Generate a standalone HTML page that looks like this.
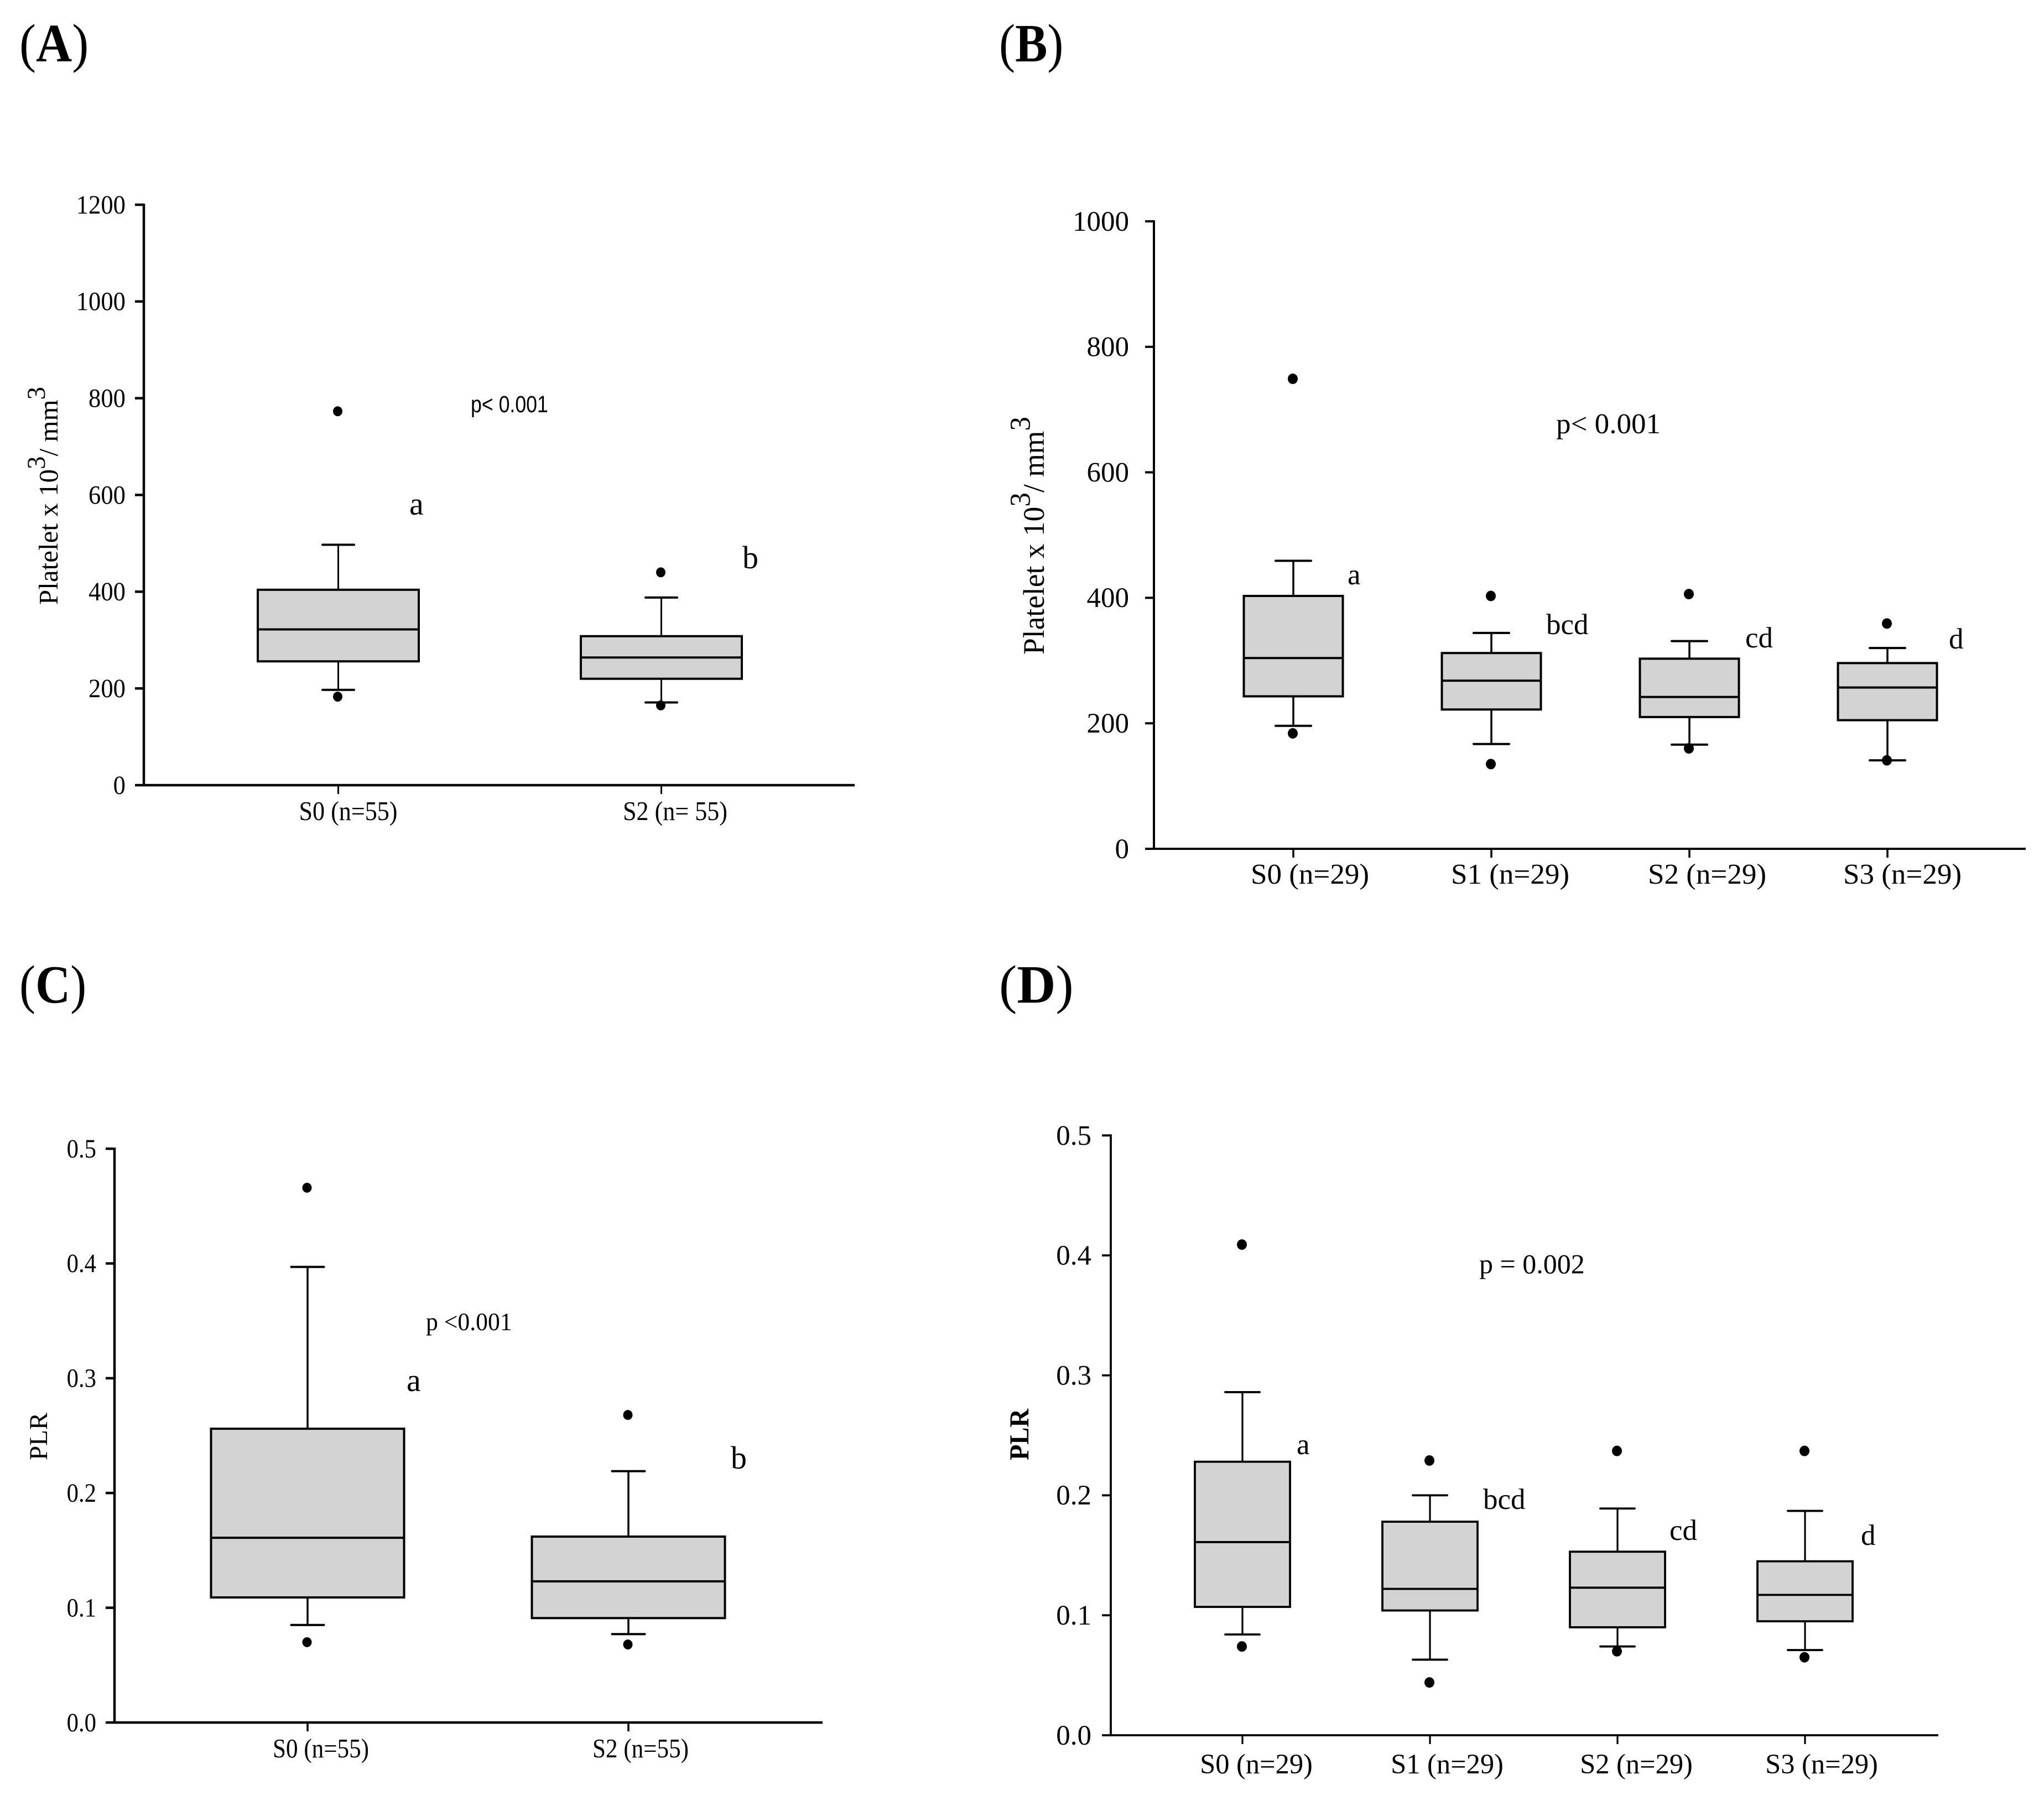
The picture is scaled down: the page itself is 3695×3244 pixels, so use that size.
<!DOCTYPE html>
<html lang="en">
<head>
<meta charset="utf-8">
<title>Platelet and PLR box plots</title>
<style>
html,body{margin:0;padding:0;background:#fff;}
svg{display:block;}
text{font-family:"Liberation Serif",serif;fill:#000;}
</style>
</head>
<body>
<svg id="figure" xmlns="http://www.w3.org/2000/svg" width="3695" height="3244" viewBox="0 0 3695 3244"></svg>
<script>
// Panel A data
const aCategories = ["S0 (n=55)", "S2 (n= 55)"];
const aQ1 = [256, 220];
const aMedian = [322, 264];
const aQ3 = [404, 308];
const aWhiskerLow = [197, 171];
const aWhiskerHigh = [497, 388];
const aOutlierLow = [183, 165];
const aOutlierHigh = [773, 440];
const aTicks = ["0", "200", "400", "600", "800", "1000", "1200"];
const aLetters = ["a", "b"];

// Panel B data
const bCategories = ["S0 (n=29)", "S1 (n=29)", "S2 (n=29)", "S3 (n=29)"];
const bQ1 = [243, 222, 210, 205];
const bMedian = [304, 268, 242, 257];
const bQ3 = [403, 312, 303, 296];
const bWhiskerLow = [196, 167, 166, 141];
const bWhiskerHigh = [459, 344, 331, 320];
const bOutlierLow = [184, 135, 160, 141];
const bOutlierHigh = [749, 403, 406, 359];
const bTicks = ["0", "200", "400", "600", "800", "1000"];
const bLetters = ["a", "bcd", "cd", "d"];

// Panel C data
const cCategories = ["S0 (n=55)", "S2 (n=55)"];
const cQ1 = [0.109, 0.091];
const cMedian = [0.161, 0.123];
const cQ3 = [0.256, 0.162];
const cWhiskerLow = [0.085, 0.077];
const cWhiskerHigh = [0.397, 0.219];
const cOutlierLow = [0.070, 0.068];
const cOutlierHigh = [0.466, 0.268];
const cTicks = ["0.0", "0.1", "0.2", "0.3", "0.4", "0.5"];
const cLetters = ["a", "b"];

// Panel D data
const dCategories = ["S0 (n=29)", "S1 (n=29)", "S2 (n=29)", "S3 (n=29)"];
const dQ1 = [0.107, 0.104, 0.090, 0.095];
const dMedian = [0.161, 0.122, 0.123, 0.117];
const dQ3 = [0.228, 0.178, 0.153, 0.145];
const dWhiskerLow = [0.084, 0.063, 0.074, 0.071];
const dWhiskerHigh = [0.286, 0.200, 0.189, 0.187];
const dOutlierLow = [0.074, 0.044, 0.070, 0.065];
const dOutlierHigh = [0.409, 0.229, 0.237, 0.237];
const dTicks = ["0.0", "0.1", "0.2", "0.3", "0.4", "0.5"];
const dLetters = ["a", "bcd", "cd", "d"];

const NS = "http://www.w3.org/2000/svg";
const svg = document.getElementById("figure");

function make(parent, tag, name, attrs) {
  const el = document.createElementNS(NS, tag);
  
  
  for (const k in attrs) el.setAttribute(k, attrs[k]);
  parent.appendChild(el);
  return el;
}
function line(parent, name, x1, y1, x2, y2, w, round) {
  const l = make(parent, "line", name, {x1: x1, y1: y1, x2: x2, y2: y2, stroke: "#000", "stroke-width": w});
  if (round) l.setAttribute("stroke-linecap", "round");
  return l;
}
function label(parent, name, str, x, y, fs, sx, anchor, family) {
  const t = make(parent, "text", name, {
    transform: "translate(" + x + "," + y + ") scale(" + sx + ",1)",
    "font-size": fs,
    "text-anchor": anchor || "start"
  });
  if (family) t.style.fontFamily = family;
  t.textContent = str;
  return t;
}

function drawPanel(p, d) {
  const g = make(svg, "g", "panel-" + p.id, {});
  const yScale = v => p.yBottom - (v / p.yMax) * (p.yBottom - p.yTop);
  const xScale = i => p.x0 + i * p.step;

  // panel letter
  const head = make(g, "text", "panel-label-" + p.id, {
    transform: "translate(" + p.headX + "," + p.headY + ") scale(" + p.headSx + ",1)",
    "font-size": 97
  });
  head.textContent = "(";
  const strong = make(head, "tspan", "panel-letter-" + p.id, {"font-weight": "bold"});
  strong.textContent = p.id.toUpperCase();
  const close = make(head, "tspan", "panel-label-close-" + p.id, {});
  close.textContent = ")";

  // axes
  line(g, "y-axis", p.axisX, p.yTop - 2, p.axisX, p.yBottom + 2, p.axisW);
  line(g, "x-axis", p.axisX - p.tickLen, p.yBottom, p.axisEnd, p.yBottom, p.axisW);

  d.ticks.forEach((tick, i) => {
    const yy = yScale(p.yMax * i / (d.ticks.length - 1));
    if (i > 0) line(g, "y-tick", p.axisX - p.tickLen, yy, p.axisX, yy, p.axisW);
    label(g, "y-tick-label", tick, p.tickRight, yy + p.tickFs * 0.33, p.tickFs, p.sx, "end");
  });

  d.categories.forEach((cat, i) => {
    const cx = xScale(i);
    line(g, "x-tick", cx, p.yBottom, cx, p.yBottom + p.tickLen, p.whiskW);
    label(g, "x-tick-label", cat, cx + p.catDx[i], p.catY, p.catFs, p.catSx, "middle");

    const yq1 = yScale(d.q1[i]), yq3 = yScale(d.q3[i]), ymed = yScale(d.median[i]);
    const ylo = yScale(d.whiskerLow[i]), yhi = yScale(d.whiskerHigh[i]);
    line(g, "whisker-high", cx, yhi, cx, yq3, p.whiskW);
    line(g, "whisker-low", cx, yq1, cx, ylo, p.whiskW);
    line(g, "whisker-cap-high", cx - p.capW / 2, yhi, cx + p.capW / 2, yhi, p.boxW, true);
    line(g, "whisker-cap-low", cx - p.capW / 2, ylo, cx + p.capW / 2, ylo, p.boxW, true);
    make(g, "rect", "box-" + i, {
      x: cx - p.boxWidth / 2, y: yq3, width: p.boxWidth, height: yq1 - yq3,
      fill: "#d3d3d3", stroke: "#000", "stroke-width": p.boxW
    });
    line(g, "median-" + i, cx - p.boxWidth / 2, ymed, cx + p.boxWidth / 2, ymed, p.boxW);
    make(g, "ellipse", "outlier-low", {cx: cx - 1, cy: yScale(d.outlierLow[i]), rx: p.dotRx, ry: p.dotRy, fill: "#000"});
    make(g, "ellipse", "outlier-high", {cx: cx - 1, cy: yScale(d.outlierHigh[i]), rx: p.dotRx, ry: p.dotRy, fill: "#000"});

    label(g, "significance-letter", d.letters[i], p.letterX[i], p.letterY[i], p.letterFs, p.letterSx, "start");
  });

  // p value
  label(g, "p-value", p.pText, p.pX, p.pY, p.pFs, p.pSx, "start", p.pFamily);

  // y axis title
  const title = make(g, "text", "y-axis-title", {
    transform: "translate(" + p.titleX + "," + p.titleY + ") rotate(-90) scale(" + p.titleSx + ",1)",
    "font-size": p.titleFs,
    "font-weight": p.titleWeight
  });
  p.titleParts.forEach((part, k) => {
    const sup = part[1];
    const ts = make(title, "tspan", sup ? "title-superscript" : "title-part", {});
    if (sup) {
      ts.setAttribute("dy", -p.titleFs * 0.47);
      ts.setAttribute("font-size", p.titleFs * 0.96);
    } else if (k > 0) {
      ts.setAttribute("dy", p.titleFs * 0.47);
    }
    ts.textContent = part[0];
  });
}

const sansStack = '"Liberation Sans",sans-serif';
const titleUnits = [["Platelet x 10", false], ["3", true], ["/ mm", false], ["3", true]];

drawPanel({
  id: "a", headX: 35, headY: 111, headSx: 0.93, yMax: 1200, yTop: 370, yBottom: 1419,
  x0: 611.5, step: 584, axisX: 260, axisEnd: 1545, axisW: 4.5, tickLen: 16,
  whiskW: 3, boxW: 4, capW: 57, boxWidth: 291, dotRx: 8.5, dotRy: 9,
  tickRight: 227, tickFs: 48, sx: 0.93, catY: 1482, catFs: 49, catSx: 0.9, catDx: [18, 25],
  letterX: [740, 1342], letterY: [930, 1027], letterFs: 58, letterSx: 1,
  pText: "p< 0.001", pX: 851, pY: 745, pFs: 43, pSx: 0.83, pFamily: sansStack,
  titleX: 104, titleY: 1093, titleSx: 1, titleFs: 49, titleWeight: "normal", titleParts: titleUnits
}, {
  categories: aCategories, q1: aQ1, median: aMedian, q3: aQ3, whiskerLow: aWhiskerLow,
  whiskerHigh: aWhiskerHigh, outlierLow: aOutlierLow, outlierHigh: aOutlierHigh, ticks: aTicks, letters: aLetters
});

drawPanel({
  id: "b", headX: 1806, headY: 111, headSx: 0.9, yMax: 1000, yTop: 400, yBottom: 1534,
  x0: 2338, step: 358, axisX: 2086, axisEnd: 3662, axisW: 4, tickLen: 16,
  whiskW: 3.5, boxW: 4, capW: 64, boxWidth: 179, dotRx: 9, dotRy: 9.5,
  tickRight: 2041, tickFs: 51, sx: 1, catY: 1597, catFs: 52, catSx: 1.02, catDx: [30, 34, 32, 27],
  letterX: [2436, 2795, 3155, 3523], letterY: [1056, 1146, 1170, 1172], letterFs: 53, letterSx: 1,
  pText: "p< 0.001", pX: 2813, pY: 783, pFs: 52, pSx: 1.02,
  titleX: 1887, titleY: 1183, titleSx: 0.99, titleFs: 54, titleWeight: "normal", titleParts: titleUnits
}, {
  categories: bCategories, q1: bQ1, median: bMedian, q3: bQ3, whiskerLow: bWhiskerLow,
  whiskerHigh: bWhiskerHigh, outlierLow: bOutlierLow, outlierHigh: bOutlierHigh, ticks: bTicks, letters: bLetters
});

drawPanel({
  id: "c", headX: 35, headY: 1812, headSx: 0.9, yMax: 0.5, yTop: 2076, yBottom: 3113,
  x0: 556, step: 580, axisX: 207, axisEnd: 1487, axisW: 4.5, tickLen: 16,
  whiskW: 3.5, boxW: 4, capW: 59, boxWidth: 349, dotRx: 8.5, dotRy: 9,
  tickRight: 174, tickFs: 48, sx: 0.89, catY: 3176, catFs: 49, catSx: 0.88, catDx: [24, 22],
  letterX: [735, 1321], letterY: [2514, 2654], letterFs: 58, letterSx: 1,
  pText: "p <0.001", pX: 770, pY: 2404, pFs: 46, pSx: 0.95,
  titleX: 85, titleY: 2639, titleSx: 1, titleFs: 47, titleWeight: "normal", titleParts: [["PLR", false]]
}, {
  categories: cCategories, q1: cQ1, median: cMedian, q3: cQ3, whiskerLow: cWhiskerLow,
  whiskerHigh: cWhiskerHigh, outlierLow: cOutlierLow, outlierHigh: cOutlierHigh, ticks: cTicks, letters: cLetters
});

drawPanel({
  id: "d", headX: 1806, headY: 1812, headSx: 1, yMax: 0.5, yTop: 2052, yBottom: 3136,
  x0: 2246, step: 339, axisX: 2008, axisEnd: 3504, axisW: 3.8, tickLen: 16,
  whiskW: 3.2, boxW: 3.8, capW: 62, boxWidth: 172, dotRx: 9, dotRy: 9.5,
  tickRight: 1973, tickFs: 51, sx: 1, catY: 3205, catFs: 51, catSx: 0.99, catDx: [25, 31, 34, 30],
  letterX: [2344, 2681, 3018, 3364], letterY: [2628, 2727, 2783, 2792], letterFs: 53, letterSx: 1,
  pText: "p = 0.002", pX: 2674, pY: 2301, pFs: 50, pSx: 1,
  titleX: 1859, titleY: 2639, titleSx: 0.93, titleFs: 50, titleWeight: "bold", titleParts: [["PLR", false]]
}, {
  categories: dCategories, q1: dQ1, median: dMedian, q3: dQ3, whiskerLow: dWhiskerLow,
  whiskerHigh: dWhiskerHigh, outlierLow: dOutlierLow, outlierHigh: dOutlierHigh, ticks: dTicks, letters: dLetters
});
</script>
</body>
</html>
